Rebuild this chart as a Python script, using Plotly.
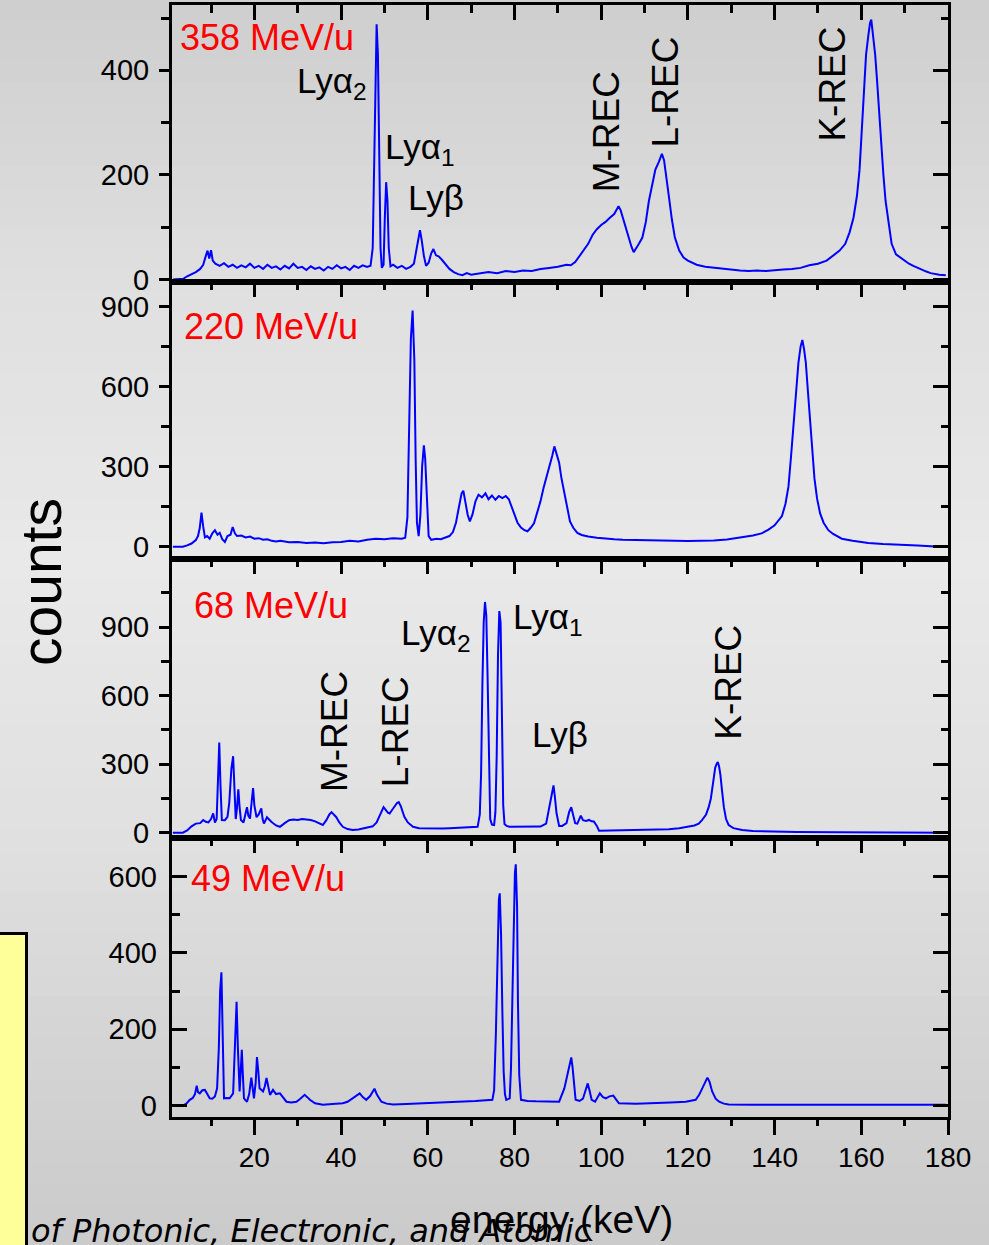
import plotly.graph_objects as go

# ---------------- data ----------------
e_358 = [1.2, 2.5, 3.6, 4.5, 5.5, 6.5, 7.5, 8.2, 8.8, 9.2, 9.6, 10.0, 10.4, 11.0, 12, 13, 14, 15, 16, 17, 18, 19, 20,
         21, 22, 23, 24, 25, 26, 27, 28, 29, 30, 31, 32, 33, 34, 35, 36, 37, 38, 39, 40, 41, 42, 43, 44, 45, 46, 46.8,
         47.3, 47.6, 47.9, 48.2, 48.5, 48.8, 49.1, 49.4, 49.8, 50.1, 50.4, 50.7, 51.0, 51.4, 52, 53, 54, 55, 56, 56.8,
         57.3, 57.8, 58.2, 58.6, 59.1, 59.6, 60.2, 60.8, 61.3, 61.9, 62.5, 63.2, 64, 65, 66, 67, 68, 69, 70, 72, 74,
         76, 78, 80, 82, 84, 86, 88, 90, 92, 93, 94, 95, 96, 97, 98, 99, 100, 101, 102, 103, 104, 104.5, 105, 105.6,
         106.3, 107, 107.5, 108, 108.7, 109.5, 110.3, 111, 111.7, 112.5, 113.3, 114, 114.5, 115, 115.6, 116.3, 117,
         118, 119, 120, 121, 122, 124, 126, 128, 130, 132, 134, 136, 138, 140, 142, 144, 146, 148, 150, 152, 153.5,
         155, 156.3, 157.3, 158.2, 159, 159.6, 160.1, 160.6, 161.1, 161.6, 162, 162.3, 162.7, 163.2, 163.6, 164.1,
         164.6, 165.1, 165.6, 166.2, 167, 168, 169, 170, 171, 172, 173, 174, 175, 176, 177, 178, 179.5]
c_358 = [0, 0, 1, 6, 10, 14, 20, 28, 45, 55, 40, 56, 36, 30, 26, 31, 24, 28, 22, 27, 23, 30, 22,
         26, 20, 28, 22, 25, 19, 26, 21, 30, 22, 24, 18, 25, 20, 23, 17, 24, 20, 27, 21, 24, 18, 26, 22, 27, 24, 26,
         60, 200, 420, 488, 430, 230, 60, 22, 28, 120, 186, 150, 60, 25, 28, 22, 26, 20, 24, 30,
         55, 82, 94, 75, 45, 26, 32, 50, 58, 46, 44, 38, 30, 20, 14, 10, 8, 12, 9, 11, 14,
         12, 16, 14, 17, 16, 20, 22, 24, 28, 27, 33, 45, 55, 68, 85, 96, 104, 110, 118, 125, 140, 132, 118, 100,
         80, 62, 52, 58, 68, 80, 110, 150, 180, 210, 225, 240, 228, 200, 160, 115, 80,
         55, 42, 36, 32, 28, 24, 22, 20, 18, 17, 16, 17, 16, 18, 19, 20, 22, 27, 30, 36, 45,
         55, 68, 90, 118, 160, 210, 290, 370, 430, 465, 490, 497, 470, 430, 385, 320,
         250, 200, 150, 110, 68, 48, 42, 36, 30, 26, 22, 18, 15, 12, 10, 9, 8]

e_220 = [1.2, 3.5, 4.5, 5.5, 6.5, 7.0, 7.4, 7.8, 8.2, 8.6, 9.1, 9.7, 10.3, 10.9, 11.5, 12, 12.6, 13.2, 13.8, 14.5,
         15, 15.5, 16, 17, 18, 19, 20, 21, 22, 23, 24, 25, 26, 28, 30, 32, 34, 36, 38, 40, 42, 44, 46, 48, 50, 52, 54,
         54.8, 55.3, 55.7, 56.1, 56.5, 56.9, 57.2, 57.5, 57.9, 58.3, 58.7, 59.1, 59.4, 59.8, 60.2, 60.8, 62, 63, 64,
         65, 65.8, 66.5, 67.2, 67.8, 68.2, 68.7, 69.2, 69.7, 70.3, 71, 71.7, 72.5, 73.3, 74, 74.8, 75.6, 76.4, 77.2,
         78, 78.7, 79.3, 80, 80.7, 81.5, 82.3, 83, 83.7, 84.5, 85.3, 86, 86.7, 87.4, 88.1, 88.7, 89.2, 89.7, 90.3,
         90.8, 91.5, 92.1, 92.8, 93.6, 94.5, 95.5, 97, 99, 101, 103, 105, 108, 111, 114, 117, 120, 123, 126, 129, 131,
         133, 135, 137, 138.6, 140, 141, 141.7, 142.5, 143.2, 143.8, 144.4, 145, 145.5, 146, 146.4, 146.8, 147.2,
         147.7, 148.2, 148.7, 149.2, 149.8, 150.5, 151.3, 152.4, 153.5, 155.5, 158, 161.6, 165, 169.3, 173, 177,
         179.5]
c_220 = [0, 0, 5, 12, 25, 40, 70, 128, 75, 35, 40, 30, 50, 62, 45, 52, 28, 18, 40, 45,
         74, 50, 40, 42, 35, 38, 30, 32, 26, 28, 22, 20, 22, 17, 18, 14, 16, 13, 17, 18, 22, 20, 26, 30, 28, 32, 30,
         34, 110, 400, 780, 885, 700, 330, 90, 40, 120, 300, 380, 330, 150, 40, 26, 30, 28, 35,
         40, 55, 90, 150, 200, 210, 160, 120, 95, 120, 170, 195, 185, 200, 178, 192, 176, 190, 182,
         190, 178, 150, 118, 90, 72, 62, 58, 70, 88, 130, 170, 220, 260, 300, 340, 376, 350, 315,
         260, 200, 140, 95, 70, 52, 44, 38, 34, 30, 28, 26, 25, 24, 22, 22, 21, 22, 23, 27, 32,
         36, 42, 50, 64, 80, 100, 115, 160, 225, 340, 470, 580, 690, 750, 775, 740, 690,
         580, 470, 360, 255, 180, 125, 90, 62, 48, 30, 22, 14, 10, 8, 5, 1,
         0]

e_68 = [1.2, 3.5, 4.5, 5.5, 6.5, 7.5, 8.2, 8.8, 9.4, 10, 10.5, 10.9, 11.3, 11.6, 11.9, 12.2, 12.5, 13.2, 13.8, 14.2,
        14.7, 15.1, 15.4, 15.7, 16, 16.3, 16.6, 16.9, 17.5, 18, 18.3, 18.6, 19, 19.4, 19.7, 20, 20.5, 21, 21.6, 21.9,
        22.2, 22.9, 23.5, 23.9, 25, 25.9, 27, 28, 29, 30, 31, 32, 33, 34, 35, 35.8, 36.6, 37.3, 37.8, 38.4, 38.9,
        39.6, 40.4, 41.5, 42.7, 44, 45.5, 46.5, 47.3, 48.2, 48.9, 49.5, 49.8, 50.3, 50.8, 51.2, 51.8, 52.3, 52.9,
        53.3, 53.8, 54.2, 54.6, 55.4, 56.6, 58, 60, 62, 63.5, 65, 67, 69, 71.5, 72.0, 72.3, 72.6, 72.9, 73.2, 73.5,
        73.8, 74.1, 74.4, 74.8, 75.3, 75.6, 75.9, 76.2, 76.5, 76.8, 77.1, 77.4, 77.7, 78.2, 78.8, 80, 82, 84, 86,
        87.3, 87.8, 88.3, 88.7, 89.0, 89.3, 89.7, 90.3, 91, 92, 92.6, 93.1, 93.6, 94, 94.5, 95.3, 95.8, 96.5, 97.2,
        97.8, 98.3, 99, 99.5, 102, 104, 107.9, 111, 115.6, 118, 120.2, 121.5, 122.5, 123.3, 124.2, 124.8, 125.3,
        125.7, 126.0, 126.3, 126.6, 126.9, 127.2, 127.5, 127.9, 128.3, 128.8, 129.4, 130.5, 132.5, 135, 138.6, 145,
        155, 165, 176, 179.5]
c_68 = [0, 0, 10, 28, 40, 42, 56, 48, 45, 60, 85, 45, 60, 250, 395, 200, 56, 55, 70, 130,
        280, 335, 160, 60, 110, 190, 110, 56, 45, 80, 112, 75, 62, 140, 195, 120, 68, 80, 107, 60,
        40, 68, 55, 48, 32, 26, 42, 55, 58, 56, 60, 58, 56, 50, 40, 34, 55, 80, 90, 80, 68,
        45, 26, 16, 12, 14, 20, 24, 28, 45, 75, 100, 112, 100, 88, 84, 100, 115, 130,
        134, 115, 92, 70, 45, 26, 20, 19, 20, 19, 20, 22, 24, 26, 80, 260, 650, 920, 1010, 950,
        680, 260, 60, 36, 34, 90, 340, 780, 970, 920, 500, 120, 38, 30, 26, 26, 24, 25, 27,
        40, 90, 150, 190, 207, 160, 85, 30, 30, 42, 90, 112, 70, 42, 40, 75, 55, 52, 56,
        50, 49, 30, 9, 10, 12, 12, 14, 15, 20, 26, 32, 40, 56, 80, 112, 150,
        200, 250, 284, 300, 310, 290, 253, 180, 112, 60, 34, 20, 12, 8, 5, 3,
        2, 1, 0, 0]

e_49 = [1.2, 3.5, 4.3, 5.1, 5.8, 6.3, 6.7, 7.0, 7.4, 8.0, 8.6, 9.1, 9.7, 10.3, 10.9, 11.4, 11.8, 12.1, 12.4, 12.7,
        13.0, 13.6, 14.3, 15.1, 15.5, 15.9, 16.2, 16.6, 16.85, 17.1, 17.35, 17.6, 18.3, 18.8, 19.3, 19.6, 19.9, 20.3,
        20.6, 20.9, 21.2, 22, 22.4, 22.8, 23.2, 23.6, 24.3, 25, 25.9, 26.6, 27.4, 28.5, 29.7, 30.6, 31.6, 32.2, 32.8,
        34, 35.8, 38, 40.4, 41.5, 42.7, 43.5, 44.3, 45.0, 45.8, 46.7, 47.3, 47.7, 48.3, 49.3, 50.5, 52, 55, 59.6, 63,
        67.3, 71, 74.9, 75.3, 75.7, 76.1, 76.4, 76.6, 76.9, 77.2, 77.5, 77.8, 78.1, 78.9, 79.2, 79.5, 79.8, 80.1,
        80.3, 80.6, 80.8, 81.1, 81.5, 83, 85, 88, 90.3, 91.5, 92.2, 92.6, 93.1, 93.4, 93.7, 94.1, 95, 95.8, 96.4,
        96.9, 97.3, 97.8, 98.6, 99.3, 99.7, 100.4, 101.1, 101.9, 102.8, 103.5, 104.1, 108, 111.8, 116, 119.5, 121.8,
        122.6, 123.3, 123.9, 124.5, 125.0, 125.6, 126.4, 127.2, 128.3, 129.4, 135, 150, 165, 179.5]
c_49 = [0, 0, 5, 15, 20, 30, 52, 35, 32, 40, 41, 30, 19, 18, 24, 45, 150, 300, 349, 180,
        19, 20, 19, 32, 150, 272, 150, 37, 90, 146, 80, 19, 10, 30, 73, 40, 19, 60,
        127, 90, 45, 37, 50, 72, 45, 28, 41, 30, 32, 22, 10, 8, 10, 18, 28, 22, 15,
        6, 2, 4, 6, 10, 19, 26, 32, 22, 15, 25, 35, 44, 28, 10, 5, 3, 4, 6, 8,
        10, 12, 15, 40, 185, 420, 540, 556, 450, 250, 90, 30, 15, 19, 100, 272, 500, 610,
        632, 520, 272, 80, 15, 12, 11, 10, 10, 45, 80, 98, 126, 100, 63, 15, 12, 18, 40,
        58, 40, 15, 10, 22, 32, 22, 19, 24, 26, 15, 6, 5, 6, 8, 10, 15,
        28, 45, 62, 73, 62, 37, 18, 10, 5, 3, 2, 2, 2, 2]

panel_labels = ["358 MeV/u", "220 MeV/u", "68 MeV/u", "49 MeV/u"]
y_ranges = [[-5, 525], [-46, 992], [-23, 1198], [-30, 701]]
y_dticks = [200, 300, 300, 200]
x_ticks = [20, 40, 60, 80, 100, 120, 140, 160, 180]

# ---------------- layout geometry ----------------
W, H = 989, 1245
L, R, T, B = 172, 41, 5, 128
PW, PH = W - L - R, H - T - B


def ypap(py):
    return (H - B - py) / PH


def xpap(px):
    return (px - L) / PW


panel_px = [(5, 282), (282, 559), (559, 838), (838, 1117)]
domains = [[max(0, ypap(b)), min(1, ypap(t))] for t, b in panel_px]

FONT = "Liberation Sans, Arial, sans-serif"
BLUE = "#0000ff"

fig = go.Figure()
series = [(e_358, c_358), (e_220, c_220), (e_68, c_68), (e_49, c_49)]
for i, (xs, ys) in enumerate(series, start=1):
    fig.add_trace(go.Scatter(x=xs, y=ys, mode="lines", line=dict(color=BLUE, width=2),
                             xaxis=f"x{i}", yaxis=f"y{i}", showlegend=False, hoverinfo="skip"))
    # dummy for left twin y-axis
    fig.add_trace(go.Scatter(x=[None], y=[None], xaxis=f"x{i}", yaxis=f"y{i+4}", showlegend=False,
                             hoverinfo="skip"))
fig.add_trace(go.Scatter(x=[None], y=[None], xaxis="x5", yaxis="y4", showlegend=False, hoverinfo="skip"))

lay = {}
for i in range(1, 5):
    rng = y_ranges[i - 1]
    dt = y_dticks[i - 1]
    # main x axis: top, inside ticks, mirrored line at bottom
    lay[f"xaxis{i}"] = dict(domain=[0, 1], anchor=f"y{i}", side="top", range=[1, 180],
                            showline=True, linecolor="black", linewidth=3, mirror=True,
                            ticks="inside", ticklen=15, tickwidth=3, tickcolor="black",
                            tick0=0, dtick=20, showticklabels=False, showgrid=False, zeroline=False,
                            automargin=False,
                            minor=dict(ticks="inside", ticklen=8, tickwidth=3, tickcolor="black",
                                       dtick=10, tick0=0, showgrid=False))
    # main y axis: right, inside ticks, mirrored line at left
    lay[f"yaxis{i}"] = dict(domain=domains[i - 1], anchor=f"x{i}", side="right", range=rng,
                            showline=True, linecolor="black", linewidth=3, mirror=True,
                            ticks="inside", ticklen=15, tickwidth=3, tickcolor="black",
                            tick0=0, dtick=dt, showticklabels=False, showgrid=False, zeroline=False,
                            automargin=False,
                            minor=dict(ticks="inside", ticklen=7, tickwidth=3, tickcolor="black",
                                       dtick=dt / 2, tick0=0, showgrid=False))
    inside = (i == 4)
    lay[f"yaxis{i+4}"] = dict(overlaying=f"y{i}", anchor=f"x{i}", side="left", range=rng,
                              showline=False, ticks="inside" if inside else "outside",
                              ticklen=15 if inside else 12, tickwidth=3, tickcolor="black",
                              tick0=0, dtick=dt, showgrid=False, zeroline=False, automargin=False,
                              tickfont=dict(family=FONT, size=29, color="black"),
                              ticklabelstandoff=14 if inside else 4,
                              minor=dict(ticks="inside" if inside else "outside",
                                         ticklen=8 if inside else 10, tickwidth=3,
                                         tickcolor="black", dtick=dt / 2, tick0=0, showgrid=False))

lay["xaxis5"] = dict(overlaying="x4", anchor="y4", side="bottom", range=[1, 180],
                     showline=False, ticks="outside", ticklen=17, tickwidth=3, tickcolor="black",
                     tickvals=x_ticks, ticktext=[str(v) for v in x_ticks],
                     tickfont=dict(family=FONT, size=28, color="black"), ticklabelstandoff=-2,
                     showgrid=False, zeroline=False, automargin=False,
                     minor=dict(ticks="outside", ticklen=8, tickwidth=3, tickcolor="black",
                                dtick=10, tick0=0, showgrid=False))

# ---------------- background gradient ----------------
stops = [(0, 206), (280, 223), (560, 233), (840, 224), (1050, 212), (1245, 203)]


def grey_at(py):
    for (y0, g0), (y1, g1) in zip(stops[:-1], stops[1:]):
        if y0 <= py <= y1:
            return g0 + (g1 - g0) * (py - y0) / (y1 - y0)
    return stops[-1][1]


shapes = []
nb = 60
for k in range(nb):
    t0 = k * H / nb
    t1 = (k + 1) * H / nb + 1
    g = int(round(grey_at((t0 + t1) / 2)))
    shapes.append(dict(type="rect", xref="paper", yref="paper", x0=xpap(-5), x1=xpap(W + 5),
                       y0=ypap(t1), y1=ypap(t0), fillcolor=f"rgb({g},{g},{g})",
                       line=dict(width=0), layer="below"))
# yellow side box
shapes.append(dict(type="rect", xref="paper", yref="paper", x0=xpap(-10), x1=xpap(26.5),
                   y0=ypap(H + 10), y1=ypap(933.5), fillcolor="#ffff99",
                   line=dict(color="black", width=3), layer="below"))

# ---------------- annotations ----------------
ann = []
red_pos = [(2.4, 462), (3.3, 824), (5.6, 994), (4.9, 594)]
for i, (lab, (ax_, ay_)) in enumerate(zip(panel_labels, red_pos), start=1):
    ann.append(dict(text=lab, x=ax_, y=ay_, xref=f"x{i}", yref=f"y{i}", xanchor="left",
                    yanchor="middle", showarrow=False,
                    font=dict(family=FONT, size=36, color="#ff0000")))

black = dict(family=FONT, size=35, color="black")
line_labels = [
    (1, "Lyα<sub>2</sub>", 37.8, 376),
    (1, "Lyα<sub>1</sub>", 58.3, 250),
    (1, "Lyβ", 61.8, 157),
    (3, "Lyα<sub>2</sub>", 61.8, 866),
    (3, "Lyα<sub>1</sub>", 87.8, 936),
    (3, "Lyβ", 90.5, 430),
]
for p, txt, ax_, ay_ in line_labels:
    ann.append(dict(text=txt, x=ax_, y=ay_, xref=f"x{p}", yref=f"y{p}", showarrow=False,
                    xanchor="center", yanchor="middle", font=black))

rec_labels = [
    (1, "M-REC", 101.3, 283),
    (1, "L-REC", 114.9, 359),
    (1, "K-REC", 153.4, 374),
    (3, "M-REC", 38.5, 443),
    (3, "L-REC", 52.6, 443),
    (3, "K-REC", 129.4, 659),
]
for p, txt, ax_, ay_ in rec_labels:
    ann.append(dict(text=txt, x=ax_, y=ay_, xref=f"x{p}", yref=f"y{p}", showarrow=False,
                    textangle=-90, xanchor="center", yanchor="middle",
                    font=dict(family=FONT, size=37, color="black")))

# partially hidden caption text at the bottom
ann.append(dict(text="<i>of Photonic, Electronic, and Atomic</i>", xref="paper", yref="paper",
                x=xpap(29), y=ypap(1231), xanchor="left", yanchor="middle", showarrow=False,
                font=dict(family="DejaVu Sans", size=32, color="black")))
# axis titles
ann.append(dict(text="energy (keV)", xref="paper", yref="paper", x=xpap(561), y=ypap(1219),
                xanchor="center", yanchor="middle", showarrow=False,
                font=dict(family=FONT, size=39, color="black")))
ann.append(dict(text="counts", xref="paper", yref="paper", x=xpap(41), y=ypap(582),
                xanchor="center", yanchor="middle", showarrow=False, textangle=-90,
                font=dict(family=FONT, size=57, color="black")))

fig.update_layout(width=W, height=H, autosize=False,
                  margin=dict(l=L, r=R, t=T, b=B, pad=0, autoexpand=False),
                  paper_bgcolor="rgb(220,220,220)", plot_bgcolor="rgba(0,0,0,0)",
                  shapes=shapes, annotations=ann, showlegend=False, **lay)

fig.write_html("out.html")
